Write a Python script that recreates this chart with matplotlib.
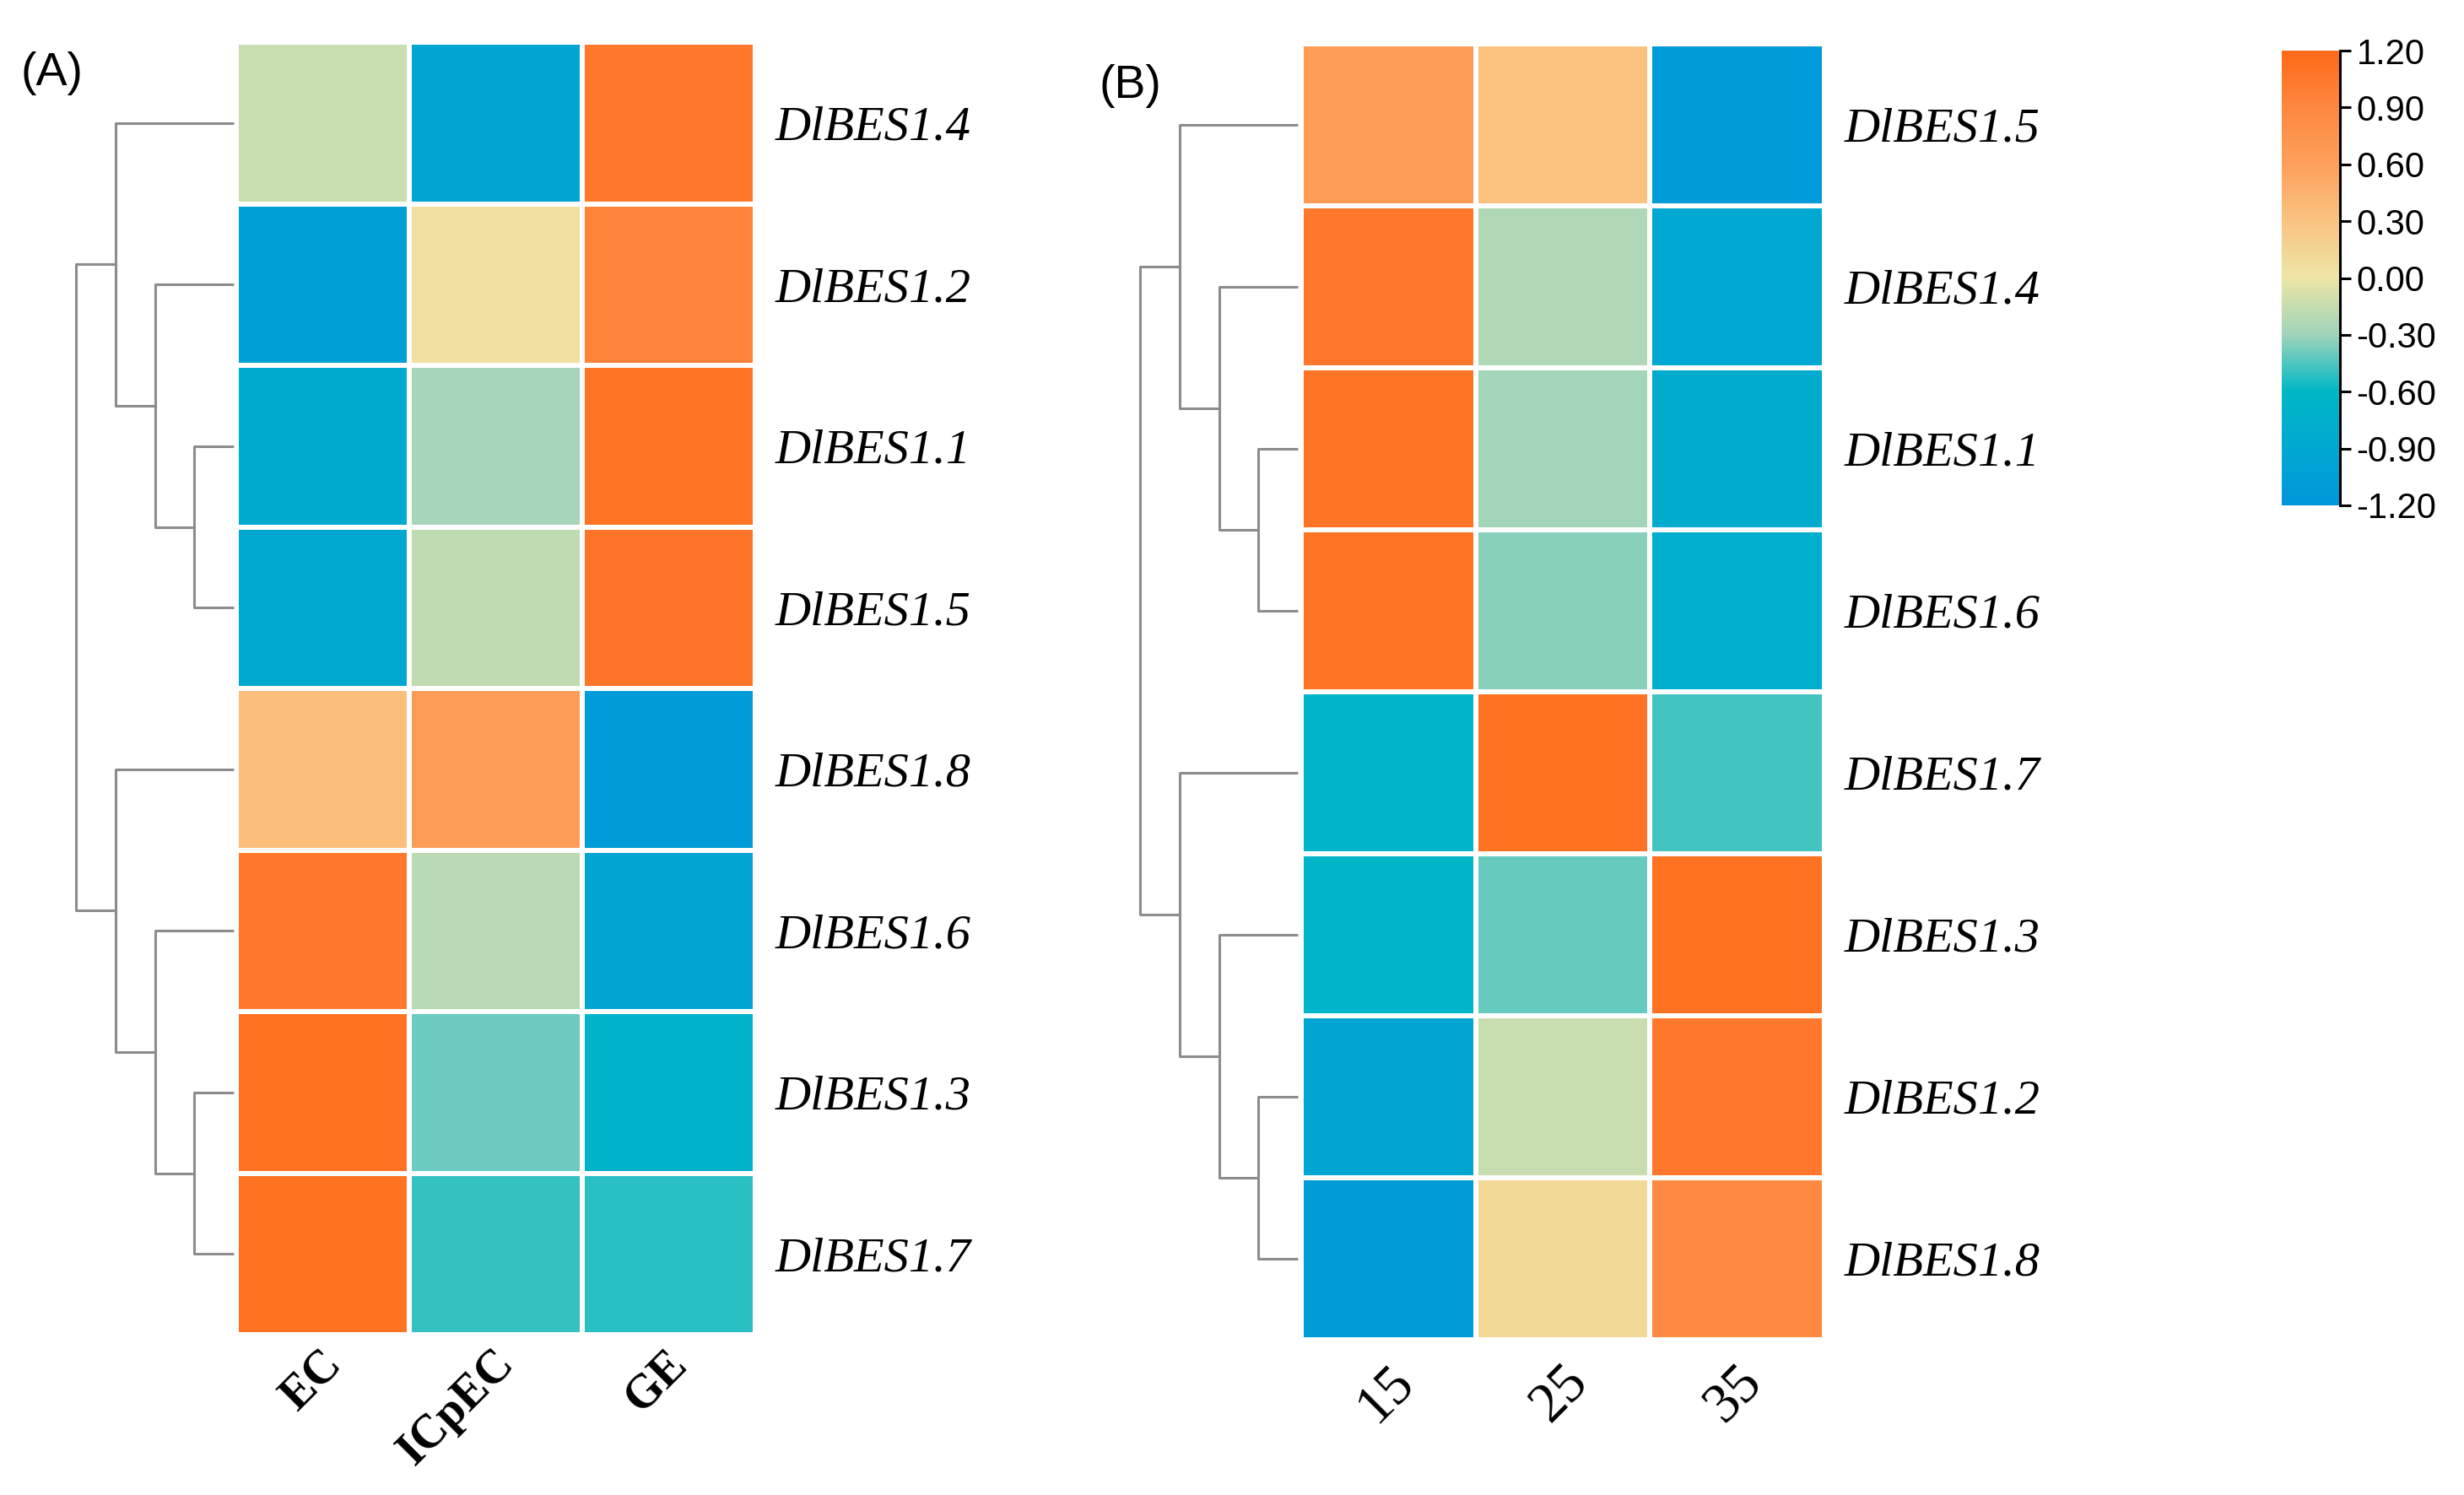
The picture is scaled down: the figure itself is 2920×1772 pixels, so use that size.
import matplotlib
matplotlib.use("Agg")
import matplotlib.pyplot as plt
import numpy as np
from matplotlib.colors import LinearSegmentedColormap
from matplotlib.transforms import ScaledTranslation

# panel A: tissue types
genes_a = ["DlBES1.4", "DlBES1.2", "DlBES1.1", "DlBES1.5",
           "DlBES1.8", "DlBES1.6", "DlBES1.3", "DlBES1.7"]
cols_a = ["EC", "ICpEC", "GE"]
vals_a = [
    [-0.15, -0.95, 1.05],
    [-1.05, 0.05, 0.95],
    [-0.87, -0.28, 1.10],
    [-0.90, -0.18, 1.08],
    [0.35, 0.65, -1.12],
    [1.05, -0.20, -0.95],
    [1.12, -0.40, -0.72],
    [1.12, -0.50, -0.52],
]
# linkage rows: (left, right, height); ids >= 8 are earlier merges
link_a = [(2, 3, 1), (1, 8, 2), (0, 9, 3), (6, 7, 1), (5, 11, 2), (4, 12, 3), (10, 13, 4)]

# panel B: temperatures
genes_b = ["DlBES1.5", "DlBES1.4", "DlBES1.1", "DlBES1.6",
           "DlBES1.7", "DlBES1.3", "DlBES1.2", "DlBES1.8"]
cols_b = ["15", "25", "35"]
vals_b = [
    [0.65, 0.32, -1.12],
    [1.05, -0.24, -0.92],
    [1.10, -0.29, -0.85],
    [1.10, -0.34, -0.80],
    [-0.65, 1.12, -0.47],
    [-0.66, -0.41, 1.12],
    [-0.95, -0.15, 1.05],
    [-1.10, 0.12, 0.88],
]
link_b = [(2, 3, 1), (1, 8, 2), (0, 9, 3), (6, 7, 1), (5, 11, 2), (4, 12, 3), (10, 13, 4)]

cbar_ticks = [1.2, 0.9, 0.6, 0.3, 0.0, -0.3, -0.6, -0.9, -1.2]

cmap = LinearSegmentedColormap.from_list("bes", [
    (0.0, "#0096DC"), (0.125, "#00A9D0"), (0.25, "#00B8C6"), (0.375, "#A0D4BA"),
    (0.5, "#EEE6A6"), (0.625, "#FBC482"), (0.75, "#FDA15C"), (0.875, "#FE8840"),
    (1.0, "#FF6A18")])

W, H = 2920, 1772
fig = plt.figure(figsize=(W / 100, H / 100), dpi=100)


def box(x0, y0, x1, y1):
    return [x0 / W, 1 - y1 / H, (x1 - x0) / W, (y1 - y0) / H]


def draw_dendro(ax, link, n):
    pos = {i: i + 0.5 for i in range(n)}
    hgt = {i: 0 for i in range(n)}
    for k, (a, b, h) in enumerate(link):
        ax.plot([hgt[a], h, h, hgt[b]], [pos[a], pos[a], pos[b], pos[b]],
                color="#8c8c8c", lw=2.2, clip_on=False, solid_capstyle="butt")
        pos[n + k] = (pos[a] + pos[b]) / 2
        hgt[n + k] = h
    ax.set_xlim(4, 0)
    ax.set_ylim(n, 0)
    ax.axis("off")


def draw_heat(ax, vals, genes, cols, bold, dx, pad, xsize):
    arr = np.array(vals)
    ax.pcolormesh(arr, cmap=cmap, vmin=-1.2, vmax=1.2, edgecolors="white", linewidth=3)
    ax.set_xlim(0, arr.shape[1])
    ax.set_ylim(arr.shape[0], 0)
    for s in ax.spines.values():
        s.set_visible(False)
    ax.yaxis.tick_right()
    ax.set_yticks(np.arange(len(genes)) + 0.5)
    ax.set_yticklabels(genes, fontsize=42, fontstyle="italic", family="Liberation Serif")
    ax.tick_params(axis="y", length=0, pad=17)
    ax.set_xticks(np.arange(len(cols)) + 0.5)
    ax.set_xticklabels(cols, fontsize=xsize, rotation=45, ha="right", va="top",
                       family="Liberation Serif", fontweight="bold" if bold else "normal")
    ax.tick_params(axis="x", length=0, pad=pad)
    for lab in ax.get_xticklabels():
        lab.set_transform(lab.get_transform() + ScaledTranslation(dx / 100, 0, fig.dpi_scale_trans))


ax_da = fig.add_axes(box(90, 50, 277, 1582))
draw_dendro(ax_da, link_a, len(genes_a))
ax_a = fig.add_axes(box(280, 50, 895, 1582))
draw_heat(ax_a, vals_a, genes_a, cols_a, True, 32, 6, 40)

ax_db = fig.add_axes(box(1351, 52, 1538, 1588))
draw_dendro(ax_db, link_b, len(genes_b))
ax_b = fig.add_axes(box(1542, 52, 2162, 1588))
draw_heat(ax_b, vals_b, genes_b, cols_b, False, 42, 14, 48)

fig.text(25 / W, 1 - 87 / H, "(A)", fontsize=40, family="Liberation Sans", va="center")
fig.text(1302 / W, 1 - 102 / H, "(B)", fontsize=40, family="Liberation Sans", va="center")

# colour bar
cax = fig.add_axes(box(2704, 60, 2773, 599))
grad = np.linspace(-1.2, 1.2, 256).reshape(-1, 1)
cax.imshow(grad, aspect="auto", cmap=cmap, vmin=-1.2, vmax=1.2, origin="lower",
           extent=[0, 1, -1.2, 1.2])
cax.set_xlim(0, 1)
cax.set_ylim(-1.2, 1.2)
for side in ["left", "top", "bottom"]:
    cax.spines[side].set_visible(False)
cax.spines["right"].set_linewidth(2.2)
cax.set_xticks([])
cax.yaxis.tick_right()
cax.set_yticks(cbar_ticks)
cax.set_yticklabels(["%.2f" % t for t in cbar_ticks], fontsize=30, family="Liberation Sans")
cax.tick_params(axis="y", length=9, width=2.2, pad=5)

fig.savefig("out.png", dpi=100, facecolor="white")
